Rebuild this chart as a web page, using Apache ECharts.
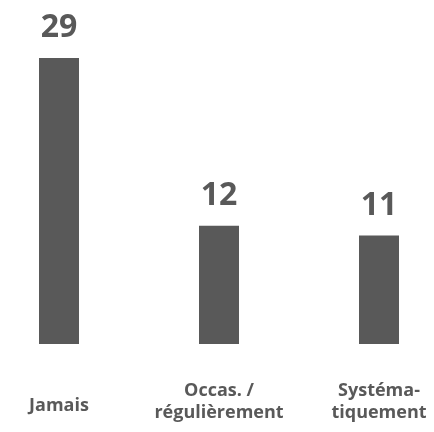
<!DOCTYPE html>
<html><head><meta charset="utf-8">
<script src="https://cdn.jsdelivr.net/npm/echarts@6/dist/echarts.min.js"></script>
<style>html,body{margin:0;padding:0;background:#fff}#c{width:434px;height:432px}</style>
</head><body><div id="c"></div>
<script>
const categories = ['Jamais', 'Occas. /\nrégulièrement', 'Systéma-\ntiquement'];
const values = [29, 12, 11];

const chart = echarts.init(document.getElementById('c'), null, {renderer: 'canvas'});
chart.setOption({
  animation: false,
  grid: {left: 59, right: 55, top: 58, bottom: 88, containLabel: false, outerBoundsMode: 'none'},
  xAxis: {
    type: 'category', boundaryGap: false,
    data: categories.map(function (c, i) {
      return i === 0 ? {value: c, textStyle: {padding: [15, 0, 0, 0]}} : c;
    }),
    axisLine: {show: false}, axisTick: {show: false},
    axisLabel: {
      interval: 0, margin: 36, color: '#595959', fontFamily: 'Open Sans', fontWeight: 'bold',
      fontSize: 18, lineHeight: 22
    }
  },
  yAxis: {type: 'value', min: 0, max: 29, show: false, splitLine: {show: false}},
  series: [{
    type: 'bar', data: values, barWidth: 40,
    itemStyle: {color: '#595959'},
    label: {show: true, position: 'top', distance: 14, color: '#595959',
      fontFamily: 'Open Sans', fontWeight: 'bold', fontSize: 32}
  }]
});
</script></body></html>
